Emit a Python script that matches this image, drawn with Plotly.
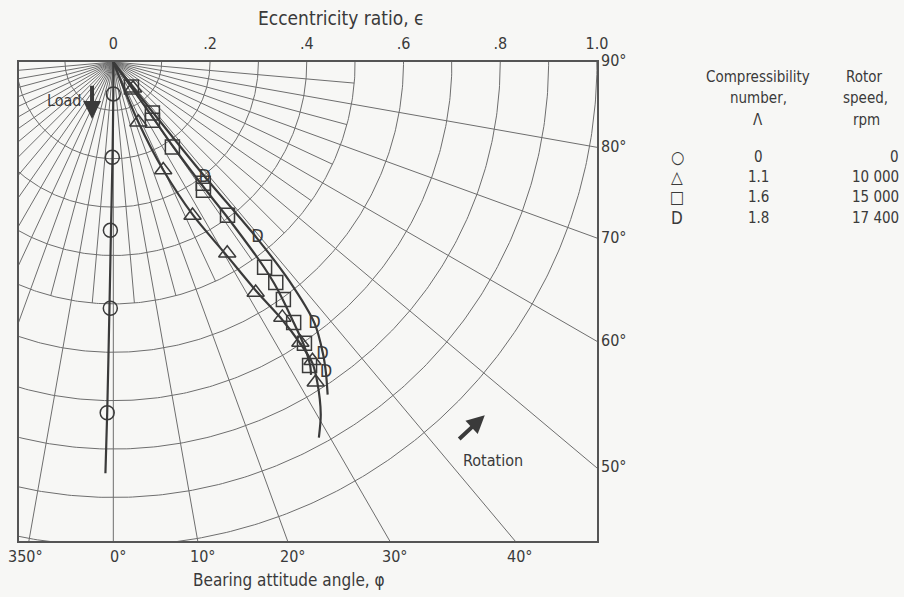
import numpy as np
import plotly.graph_objects as go

# ---------------- data (eccentricity ratio, attitude angle in degrees) ----------------
circle_e = [0.066, 0.197, 0.348, 0.509, 0.725]
circle_phi = [0.0, -0.6, -1.0, -0.7, -1.0]

tri_e = [0.068, 0.135, 0.246, 0.357, 0.460, 0.560, 0.633, 0.697, 0.742, 0.783]
tri_phi = [37.0, 22.6, 24.8, 27.3, 30.8, 31.7, 33.5, 33.7, 33.7, 32.3]

sq_e = [0.064, 0.133, 0.145, 0.214, 0.312, 0.324, 0.395, 0.527, 0.566, 0.604, 0.655, 0.703, 0.747]
sq_phi = [35.8, 37.4, 33.9, 34.8, 36.6, 35.1, 36.7, 36.4, 36.4, 35.6, 34.7, 34.2, 32.9]

d_e = [0.304, 0.469, 0.682, 0.743, 0.778]
d_phi = [38.4, 39.5, 37.6, 35.6, 34.4]

# faired curves drawn through the data
curve_circle_e = [0.0, 0.066, 0.20, 0.35, 0.51, 0.725, 0.85]
curve_circle_phi = [0.0, 0.0, -0.5, -0.8, -0.9, -1.0, -1.1]
curve_tri_e = [0.0, 0.135, 0.246, 0.357, 0.46, 0.56, 0.633, 0.70, 0.745, 0.785, 0.845, 0.885]
curve_tri_phi = [22.0, 22.6, 24.8, 27.5, 30.3, 32.0, 33.2, 33.6, 33.5, 32.5, 30.5, 28.7]
curve_sq_e = [0.0, 0.064, 0.14, 0.214, 0.318, 0.395, 0.527, 0.566, 0.604, 0.655, 0.703, 0.747, 0.765]
curve_sq_phi = [35.0, 35.5, 35.5, 35.3, 35.8, 36.3, 36.3, 36.0, 35.5, 34.7, 34.0, 33.0, 32.3]
curve_d_e = [0.0, 0.15, 0.304, 0.469, 0.58, 0.682, 0.743, 0.778, 0.818]
curve_d_phi = [38.0, 38.2, 38.6, 39.2, 38.8, 37.6, 35.7, 34.4, 32.8]

# axis tick labels
ecc_ticks = [0, 0.2, 0.4, 0.6, 0.8, 1.0]
ecc_labels = ["0", ".2", ".4", ".6", ".8", "1.0"]
right_angles = [90, 80, 70, 60, 50]
bottom_angles = [-10, 0, 10, 20, 30, 40]
bottom_labels = ["350°", "0°", "10°", "20°", "30°", "40°"]

# legend table
legend_symbols = ["○", "△", "□", "D"]
legend_lambda = ["0", "1.1", "1.6", "1.8"]
legend_rpm = ["0", "10 000", "15 000", "17 400"]

# ---------------- styling ----------------
W, H = 904, 597
FONT = "DejaVu Sans Condensed, Liberation Sans Narrow, Arial Narrow, sans-serif"
INK = "#3a3a3a"
GRID = "#6e6e6e"
BG = "#f7f7f5"
X_RANGE = [-0.195, 1.0]
Y_RANGE = [-0.99, 0.0]
# plot-area pixel box
PL, PR, PT, PB = 19, 597, 62, 541


def to_xy(e, phi):
    e = np.asarray(e, float)
    p = np.radians(np.asarray(phi, float))
    return e * np.sin(p), -e * np.cos(p)


def paper(px, py):
    return px / W, 1 - py / H


def ptext(txt, px, py, size, xanchor="center"):
    lx, ly = paper(px, py)
    return dict(x=lx, y=ly, xref="paper", yref="paper", text=txt, showarrow=False,
                xanchor=xanchor, yanchor="middle", font=dict(family=FONT, size=size, color=INK))


fig = go.Figure()

# grid: arcs every 0.1
t = np.radians(np.linspace(-180, 180, 721))
for k in range(1, 11):
    r = k / 10
    fig.add_trace(go.Scatter(x=r * np.sin(t), y=-r * np.cos(t), mode="lines",
                             line=dict(color=GRID, width=1), hoverinfo="skip", showlegend=False))
# radial lines: every 10 deg full length, intermediate 5 deg shorter
for a in range(-85, 90, 5):
    length = 2.0 if a % 10 == 0 else 0.5
    x, y = to_xy([0, length], [a, a])
    fig.add_trace(go.Scatter(x=x, y=y, mode="lines", line=dict(color=GRID, width=1),
                             hoverinfo="skip", showlegend=False))

# curves
for ce, cp in [(curve_circle_e, curve_circle_phi), (curve_tri_e, curve_tri_phi),
               (curve_sq_e, curve_sq_phi), (curve_d_e, curve_d_phi)]:
    x, y = to_xy(ce, cp)
    fig.add_trace(go.Scatter(x=x, y=y, mode="lines", line=dict(color=INK, width=2.2, shape="spline", smoothing=0.8),
                             hoverinfo="skip", showlegend=False))

# symbols
for e, p, sym, size in [(circle_e, circle_phi, "circle-open", 14),
                        (tri_e, tri_phi, "triangle-up-open", 15),
                        (sq_e, sq_phi, "square-open", 14)]:
    x, y = to_xy(e, p)
    fig.add_trace(go.Scatter(x=x, y=y, mode="markers",
                             marker=dict(symbol=sym, size=size, color=INK, line=dict(width=1.5, color=INK)),
                             hoverinfo="skip", showlegend=False))
x, y = to_xy(d_e, d_phi)
fig.add_trace(go.Scatter(x=x, y=y, mode="text", text=["D"] * len(d_e),
                         textfont=dict(family=FONT, size=18, color=INK), textposition="middle center",
                         hoverinfo="skip", showlegend=False))

ann = []
# right edge angle labels
for a in right_angles:
    yv = -X_RANGE[1] / np.tan(np.radians(a)) if a != 90 else 0.0
    ann.append(dict(x=X_RANGE[1], y=yv, xref="x", yref="y", text=f"{a}°", showarrow=False,
                    xanchor="left", yanchor="middle", xshift=2, yshift=1,
                    font=dict(family=FONT, size=16, color=INK)))
# bottom angle labels
for a, lab in zip(bottom_angles, bottom_labels):
    xv = -Y_RANGE[0] * np.tan(np.radians(a))
    ann.append(dict(x=xv, y=Y_RANGE[0], xref="x", yref="y", text=lab, showarrow=False,
                    xanchor="center", yanchor="top", xshift=(-3 if a < 0 else 5), yshift=-4,
                    font=dict(family=FONT, size=16, color=INK)))
# axis titles
ann.append(ptext("Eccentricity ratio, ϵ", 341, 18, 19))
ann.append(ptext("Bearing attitude angle, φ", 289, 580, 17))
# Load / Rotation
ann.append(dict(x=-0.044, y=-0.118, ax=-0.044, ay=-0.046, xref="x", yref="y", axref="x", ayref="y",
                text="", showarrow=True, arrowhead=2, arrowsize=0.9, arrowwidth=4, arrowcolor=INK))
ann.append(dict(x=-0.1, y=-0.079, xref="x", yref="y", text="Load", showarrow=False,
                font=dict(family=FONT, size=16, color=INK)))
ann.append(dict(x=0.768, y=-0.730, ax=0.712, ay=-0.782, xref="x", yref="y", axref="x", ayref="y",
                text="", showarrow=True, arrowhead=2, arrowsize=0.9, arrowwidth=4, arrowcolor=INK))
ann.append(dict(x=0.784, y=-0.823, xref="x", yref="y", text="Rotation", showarrow=False,
                font=dict(family=FONT, size=16, color=INK)))

# legend table
for txt, px, py in [("Compressibility", 758, 77), ("number,", 758, 98), ("Λ", 758, 120),
                    ("Rotor", 864, 77), ("speed,", 865, 98), ("rpm", 866, 120)]:
    ann.append(ptext(txt, px, py, 15))
row_y = [157, 177, 197, 218]
for sym, lam, rpm, py in zip(legend_symbols, legend_lambda, legend_rpm, row_y):
    ann.append(ptext(sym, 677, py, 17))
    ann.append(ptext(lam, 758, py, 15))
    ann.append(ptext(rpm, 901, py, 15, xanchor="right"))

fig.update_layout(
    width=W, height=H, margin=dict(l=0, r=0, t=0, b=0, pad=0, autoexpand=False),
    paper_bgcolor=BG, plot_bgcolor=BG, showlegend=False,
    annotations=ann,
    xaxis=dict(domain=[PL / W, PR / W], range=X_RANGE, side="top",
               tickvals=ecc_ticks, ticktext=ecc_labels, ticks="outside", ticklen=5,
               tickcolor="rgba(0,0,0,0)", tickfont=dict(family=FONT, size=16, color=INK),
               showgrid=False, zeroline=False, showline=True, mirror=True,
               linecolor="#555555", linewidth=1.5),
    yaxis=dict(domain=[1 - PB / H, 1 - PT / H], range=Y_RANGE, showticklabels=False, ticks="",
               showgrid=False, zeroline=False, showline=True, mirror=True,
               linecolor="#555555", linewidth=1.5),
)

fig.write_html("out.html", config={"displayModeBar": False},
               post_script="document.body.style.margin='0px';document.body.style.overflow='hidden';")
